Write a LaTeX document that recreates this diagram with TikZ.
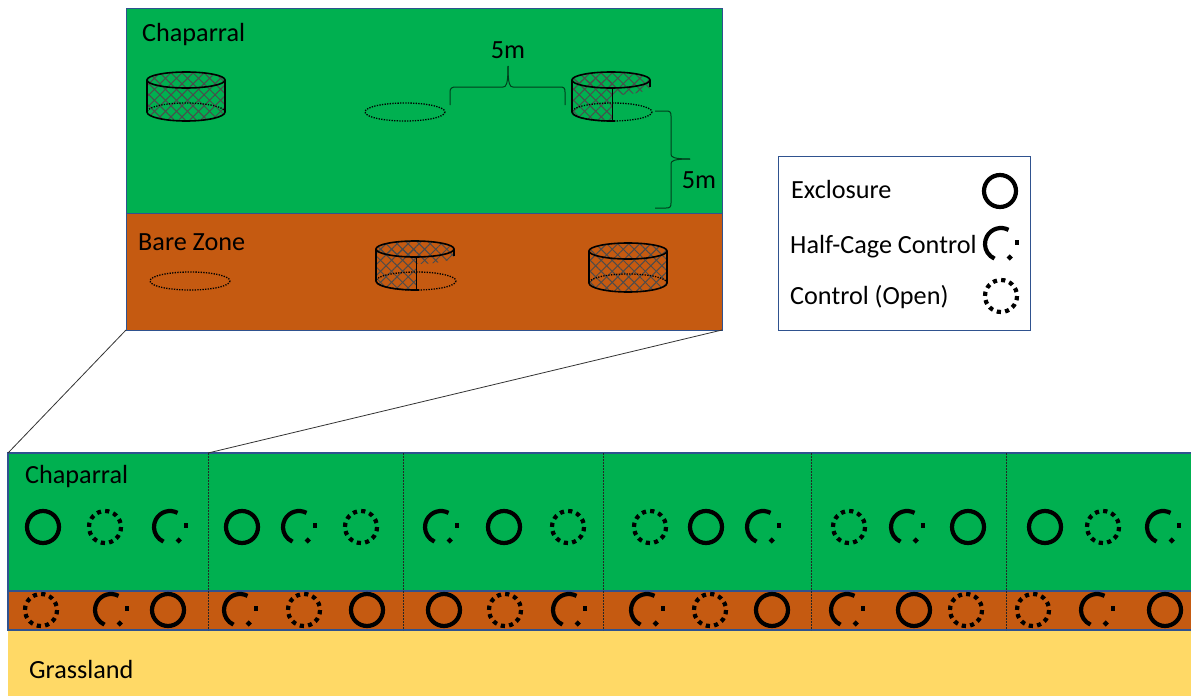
\documentclass[tikz,border=0pt]{standalone}
\usepackage{fontspec}
\setmainfont{Carlito}
\usetikzlibrary{patterns.meta}
\definecolor{chaparral}{HTML}{00B050}
\definecolor{barezone}{HTML}{C55A11}
\definecolor{grassland}{HTML}{FFD966}
\definecolor{frameblue}{HTML}{2F528F}
\tikzset{
	panel/.style={draw=frameblue, line width=1pt, anchor=north west, inner sep=0pt, outer sep=0pt},
	placename/.style={anchor=west, inner sep=0pt, font=\fontsize{26.2}{30}\selectfont},
	mesh/.style={pattern={Lines[angle=45,distance=7.8pt,line width=1pt]}, pattern color=black!70},
	meshx/.style={pattern={Lines[angle=-45,distance=7.8pt,line width=1pt]}, pattern color=black!70},
	plotring/.style={line width=1.3pt, dash pattern=on 1.3pt off 1.3pt},
	cagewall/.style={line width=1.6pt},
	sizebrace/.style={line width=1pt, draw=black!65!chaparral},
	pics/exclosure/.style={code={
		\draw[line width=4.2pt] (0,0) circle (16);
	}},
	pics/halfcage/.style={code={
		\draw[line width=4.2pt] (-62:16) arc (-62:-246:16);
		\fill (-5:16) ++(-2.3,-2.3) rectangle ++(4.6,4.6);
		\fill[rotate around={45:(57:16)}] (57:16) ++(-2.2,-2.2) rectangle ++(4.4,4.4);
	}},
	pics/opencontrol/.style={code={
		\draw[line width=4.2pt, dash pattern=on 4.2pt off 4.18pt] (0,0) circle (16);
	}},
	pics/fullcage/.style={code={
		\foreach \hatch in {mesh,meshx} {
			\path[\hatch] (-39,0) -- (-39,32) arc[start angle=180, end angle=0, x radius=39, y radius=9] -- (39,0)
				arc[start angle=0, end angle=-180, x radius=39, y radius=8] -- cycle;
		}
		\draw[plotring] (39,32) arc[start angle=0, end angle=-180, x radius=39, y radius=9];
		\draw[cagewall] (-39,0) -- (-39,32) arc[start angle=180, end angle=0, x radius=39, y radius=9] -- (39,0);
		\draw[cagewall] (0,0) ellipse [x radius=39, y radius=8];
	}},
	pics/halfcagewall/.style={code={
		\foreach \hatch in {mesh,meshx} {
			\path[\hatch] (-39,0) -- (-39,32) arc[start angle=180, end angle=88, x radius=39, y radius=9] -- (1,0) -- cycle;
			\path[\hatch] (0,0) ellipse [x radius=39, y radius=8];
			\path[\hatch] (39,0) -- (39,7) arc[start angle=0, end angle=90, x radius=39, y radius=8] -- (0,8)
				arc[start angle=90, end angle=0, x radius=39, y radius=8] -- cycle;
		}
		\draw[plotring] (1,32) ellipse [x radius=40, y radius=9];
		\draw[cagewall] (-39,0) -- (-39,32) arc[start angle=180, end angle=84, x radius=39, y radius=9];
		\draw[line width=1pt] (1,8) -- (1,40);
		\draw[cagewall] (39,0) -- (39,7);
		\draw[cagewall] (0,0) ellipse [x radius=39, y radius=8];
	}},
}

\begin{document}
\begin{tikzpicture}[x=1pt, y=-1pt]
	\useasboundingbox (0,0) rectangle (1191,696);
	% enlarged patch
	\node[panel, fill=chaparral, minimum width=596pt, minimum height=205pt] (upperveg) at (126,8) {};
	\node[panel, fill=barezone, minimum width=596pt, minimum height=117pt] (upperbare) at (126,213) {};
	\node[placename] (uppervegname) at (142,35) {Chaparral};
	\node[placename] (upperbarename) at (138,242) {Bare Zone};
	\pic at (186,80) {fullcage};
	\pic at (611,80) {halfcagewall};
	\pic at (415,249) {halfcagewall};
	\pic at (628,251) {fullcage};
	\draw[plotring] (405,112) ellipse [x radius=40, y radius=9];
	\draw[plotring] (190,281) ellipse [x radius=40, y radius=9];
	% size braces
	\node[placename, anchor=center] (spacetop) at (508,50) {5m};
	\node[placename, anchor=center] (spaceside) at (699,180) {5m};
	\draw[sizebrace] (450,105) -- (450,92) .. controls (450,88) and (452,87) .. (456,87) -- (503,87)
		.. controls (506,87) and (508,85) .. (508,66);
	\draw[sizebrace] (508,66) .. controls (508,85) and (510,87) .. (513,87) -- (560,87)
		.. controls (564,87) and (565,88) .. (565,92) -- (565,105);
	\draw[sizebrace] (655,111) -- (666,111) .. controls (670,111) and (671,112) .. (671,116) -- (671,154)
		.. controls (671,157) and (673,159) .. (690,159);
	\draw[sizebrace] (690,159) .. controls (673,159) and (671,161) .. (671,164) -- (671,203)
		.. controls (671,207) and (670,208) .. (666,208) -- (655,208);
	% legend
	\node[panel, fill=white, minimum width=252pt, minimum height=174pt] (legend) at (778,156) {};
	\node[placename] (legendexcl) at (791,189) {Exclosure};
	\node[placename] (legendhalf) at (790,247) {Half-Cage Control};
	\node[placename] (legendopen) at (790,297) {Control (Open)};
	\pic at (1000,191) {exclosure};
	\pic at (1001,244) {halfcage};
	\pic at (1001,296) {opencontrol};
	% site strip
	\node[panel, draw=none, fill=grassland, minimum width=1183pt, minimum height=66pt] (grass) at (8,630) {};
	\node[panel, line width=1.5pt, fill=chaparral, minimum width=1190pt, minimum height=138pt] (stripveg) at (8,453) {};
	\node[panel, line width=1.5pt, fill=barezone, minimum width=1190pt, minimum height=39pt] (stripbare) at (8,591) {};
	\node[placename] (stripvegname) at (25,477) {Chaparral};
	\node[placename] (grassname) at (29,669) {Grassland};
	\foreach \x in {208,403,603,811,1006} {
		\coordinate (block\x) at (\x,453);
		\draw[line width=0.9pt, dash pattern=on 2pt off 1pt, black!85] (block\x) -- (\x,630);
	}
	\draw[line width=0.8pt, black!80] (upperbare.south west) -- (stripveg.north west);
	\draw[line width=0.8pt, black!80] (upperbare.south east) -- (block208);
	\foreach \x/\kind in {43/exclosure,105/opencontrol,170/halfcage,242/exclosure,299/halfcage,361/opencontrol,
		441/halfcage,504/exclosure,568/opencontrol,650/opencontrol,706/exclosure,763/halfcage,
		849/opencontrol,907/halfcage,968/exclosure,1045/exclosure,1103/opencontrol,1163/halfcage}
		\pic at (\x,527) {\kind};
	\foreach \x/\kind in {41/opencontrol,111/halfcage,168/exclosure,240/halfcage,304/opencontrol,367/exclosure,
		444/exclosure,505/opencontrol,569/halfcage,647/halfcage,710/opencontrol,772/exclosure,
		847/halfcage,914/exclosure,966/opencontrol,1033/opencontrol,1097/halfcage,1165/exclosure}
		\pic at (\x,610) {\kind};
\end{tikzpicture}
\end{document}
